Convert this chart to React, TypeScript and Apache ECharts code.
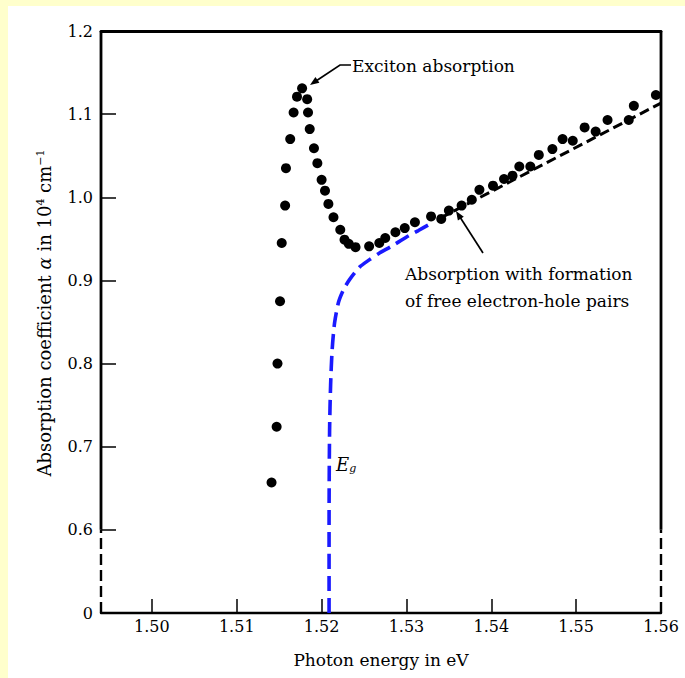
import React, { useEffect, useRef } from "react";
import * as echarts from "echarts";

// Measured absorption (photon energy in eV, alpha in 10^4 cm^-1)
const measuredEnergy = [
  1.5141, 1.5147, 1.5148, 1.5151, 1.5153, 1.5157, 1.5158, 1.5163, 1.5167, 1.5171,
  1.5177, 1.5183, 1.5184, 1.5186, 1.5191, 1.5195, 1.52, 1.5204, 1.5208, 1.5214,
  1.5222, 1.5227, 1.5232, 1.524, 1.5256, 1.5268, 1.5275, 1.5287, 1.5298, 1.531,
  1.5329, 1.5341, 1.535, 1.5365, 1.5377, 1.5386, 1.5402, 1.5415, 1.5425, 1.5433,
  1.5446, 1.5456, 1.5472, 1.5484, 1.5496, 1.551, 1.5523, 1.5537, 1.5562, 1.5568,
  1.5594,
];
const measuredAlpha = [
  0.657, 0.724, 0.8, 0.875, 0.945, 0.99, 1.035, 1.07, 1.102, 1.121,
  1.131, 1.118, 1.102, 1.082, 1.059, 1.041, 1.021, 1.008, 0.992, 0.976,
  0.961, 0.949, 0.944, 0.94, 0.941, 0.945, 0.951, 0.958, 0.963, 0.97,
  0.977, 0.974, 0.984, 0.99, 0.997, 1.009, 1.014, 1.022, 1.026, 1.037,
  1.037, 1.051, 1.058, 1.07, 1.068, 1.084, 1.079, 1.093, 1.093, 1.11,
  1.123,
];

// Theoretical free electron-hole absorption (blue dashed curve)
const gapCurveEnergy = [
  1.52088, 1.52088, 1.52094, 1.52106, 1.52124, 1.52153, 1.522, 1.52259, 1.52329,
  1.52447, 1.52565, 1.52682, 1.52824, 1.52997, 1.53141, 1.53271,
];
const gapCurveAlpha = [
  0.5, 0.611, 0.719, 0.774, 0.816, 0.849, 0.874, 0.889, 0.901,
  0.916, 0.925, 0.933, 0.941, 0.952, 0.96, 0.9675,
];

// Continuation of the free-pair absorption (black dashed line)
const freePairEnergy = [1.534, 1.56];
const freePairAlpha = [0.975, 1.1133];

// Axes
const xRange = [1.494, 1.56];
const yRange = [0.5, 1.2]; // 0.5 is drawn as "0" (broken axis)
const xTickValues = [1.5, 1.51, 1.52, 1.53, 1.54, 1.55];
const xLabelValues = [1.5, 1.51, 1.52, 1.53, 1.54, 1.55, 1.56];
const yTickValues = [0.6, 0.7, 0.8, 0.9, 1.0, 1.1];
const yLabelValues = [0.5, 0.6, 0.7, 0.8, 0.9, 1.0, 1.1, 1.2];
const axisBreakTop = 0.6;

const FONT = "'DejaVu Serif', 'Liberation Serif', serif";
const INK = "#000";

export default function App() {
  const ref = useRef<HTMLDivElement>(null);

  useEffect(() => {
    if (!ref.current) return;
    const chart = echarts.init(ref.current, null, { renderer: "svg" });

    const frame = (x: number, y0: number, y1: number, dashed: boolean) => ({
      type: "line",
      data: [
        [x, y0],
        [x, y1],
      ],
      symbol: "none",
      clip: false,
      silent: true,
      z: 1,
      lineStyle: {
        color: INK,
        width: dashed ? 2.4 : 2.8,
        type: dashed ? [11, 5] : "solid",
      },
    });

    chart.setOption({
      animation: false,
      backgroundColor: "#ffffff",
      textStyle: { fontFamily: FONT, color: INK },
      grid: { left: 93, right: 24, top: 25, bottom: 65, containLabel: false },
      xAxis: [
        {
          type: "value",
          min: xRange[0],
          max: xRange[1],
          position: "bottom",
          axisLine: { show: true, lineStyle: { color: INK, width: 2.4 } },
          axisTick: {
            show: true,
            inside: true,
            length: 14,
            customValues: xTickValues,
            lineStyle: { color: INK, width: 1.5 },
          },
          axisLabel: {
            customValues: xLabelValues,
            formatter: (v: number) => v.toFixed(2),
            fontFamily: FONT,
            fontSize: 16,
            color: INK,
            margin: 5,
          },
          splitLine: { show: false },
          name: "Photon energy in eV",
          nameLocation: "middle",
          nameGap: 38,
          nameTextStyle: { fontFamily: FONT, fontSize: 17, color: INK },
        },
        {
          type: "value",
          min: xRange[0],
          max: xRange[1],
          position: "top",
          axisLine: { show: true, lineStyle: { color: INK, width: 2.8 } },
          axisTick: { show: false },
          axisLabel: { show: false },
          splitLine: { show: false },
        },
      ],
      yAxis: {
        type: "value",
        min: yRange[0],
        max: yRange[1],
        axisLine: { show: false },
        axisTick: {
          show: true,
          inside: true,
          length: 15,
          customValues: yTickValues,
          lineStyle: { color: INK, width: 1.5 },
        },
        axisLabel: {
          customValues: yLabelValues,
          formatter: (v: number) => (v < 0.55 ? "0" : v.toFixed(1)),
          fontFamily: FONT,
          fontSize: 16,
          color: INK,
          margin: 8,
        },
        splitLine: { show: false },
        name: "Absorption coefficient {i|α} in 10{sup|4} cm{sup|−1}",
        nameLocation: "middle",
        nameGap: 48,
        nameTextStyle: {
          fontFamily: FONT,
          fontSize: 18,
          color: INK,
          padding: [0, 0, 0, 18],
          rich: {
            i: { fontFamily: FONT, fontSize: 18, fontStyle: "italic", color: INK },
            sup: { fontFamily: FONT, fontSize: 11, verticalAlign: "top", color: INK },
          },
        },
      },
      series: [
        frame(xRange[0], axisBreakTop, yRange[1], false),
        frame(xRange[0], yRange[0], axisBreakTop, true),
        frame(xRange[1], axisBreakTop, yRange[1], false),
        frame(xRange[1], yRange[0], axisBreakTop, true),
        {
          name: "free pairs (theory)",
          type: "line",
          data: gapCurveEnergy.map((e, i) => [e, gapCurveAlpha[i]]),
          symbol: "none",
          smooth: 0.25,
          z: 2,
          lineStyle: { color: "#1a1aff", width: 3.6, type: [15, 7] },
        },
        {
          name: "free pairs (continuation)",
          type: "line",
          data: freePairEnergy.map((e, i) => [e, freePairAlpha[i]]),
          symbol: "none",
          z: 2,
          lineStyle: { color: INK, width: 3, type: [10, 5] },
        },
        {
          name: "measured",
          type: "scatter",
          data: measuredEnergy.map((e, i) => [e, measuredAlpha[i]]),
          symbol: "circle",
          symbolSize: 10,
          z: 3,
          itemStyle: { color: "#000", opacity: 1 },
        },
      ],
      graphic: [
        {
          type: "text",
          left: 344,
          top: 51,
          style: {
            text: "Exciton absorption",
            font: `17px ${FONT}`,
            fill: INK,
          },
        },
        {
          type: "polyline",
          shape: { points: [[343, 59], [332, 59], [305, 77]] },
          style: { stroke: INK, lineWidth: 1.7, fill: "none" },
        },
        {
          type: "polygon",
          shape: { points: [[302, 79], [311.4, 76.8], [307.4, 71]] },
          style: { fill: INK },
        },
        {
          type: "text",
          left: 397,
          top: 254,
          style: {
            text: "Absorption with formation\nof free electron-hole pairs",
            font: `17px ${FONT}`,
            lineHeight: 27,
            fill: INK,
          },
        },
        {
          type: "line",
          shape: { x1: 475, y1: 247, x2: 450, y2: 208 },
          style: { stroke: INK, lineWidth: 1.7 },
        },
        {
          type: "polygon",
          shape: { points: [[448, 205], [455.8, 210.7], [449.9, 214.5]] },
          style: { fill: INK },
        },
        {
          type: "text",
          left: 328,
          top: 449,
          style: {
            rich: {
              e: { font: `italic 18px ${FONT}`, fill: INK },
              g: { font: `italic 11px ${FONT}`, fill: INK, padding: [9, 0, 0, 0] },
            },
            text: "{e|E}{g|g}",
          },
        },
      ],
    });

    return () => chart.dispose();
  }, []);

  return (
    <div
      style={{
        position: "fixed",
        left: 0,
        top: 0,
        width: 685,
        height: 678,
        background: "#FFFFCC",
        overflow: "hidden",
      }}
    >
      <div
        ref={ref}
        style={{ position: "absolute", left: 8, top: 6, width: 677, height: 672, background: "#fff" }}
      />
    </div>
  );
}
